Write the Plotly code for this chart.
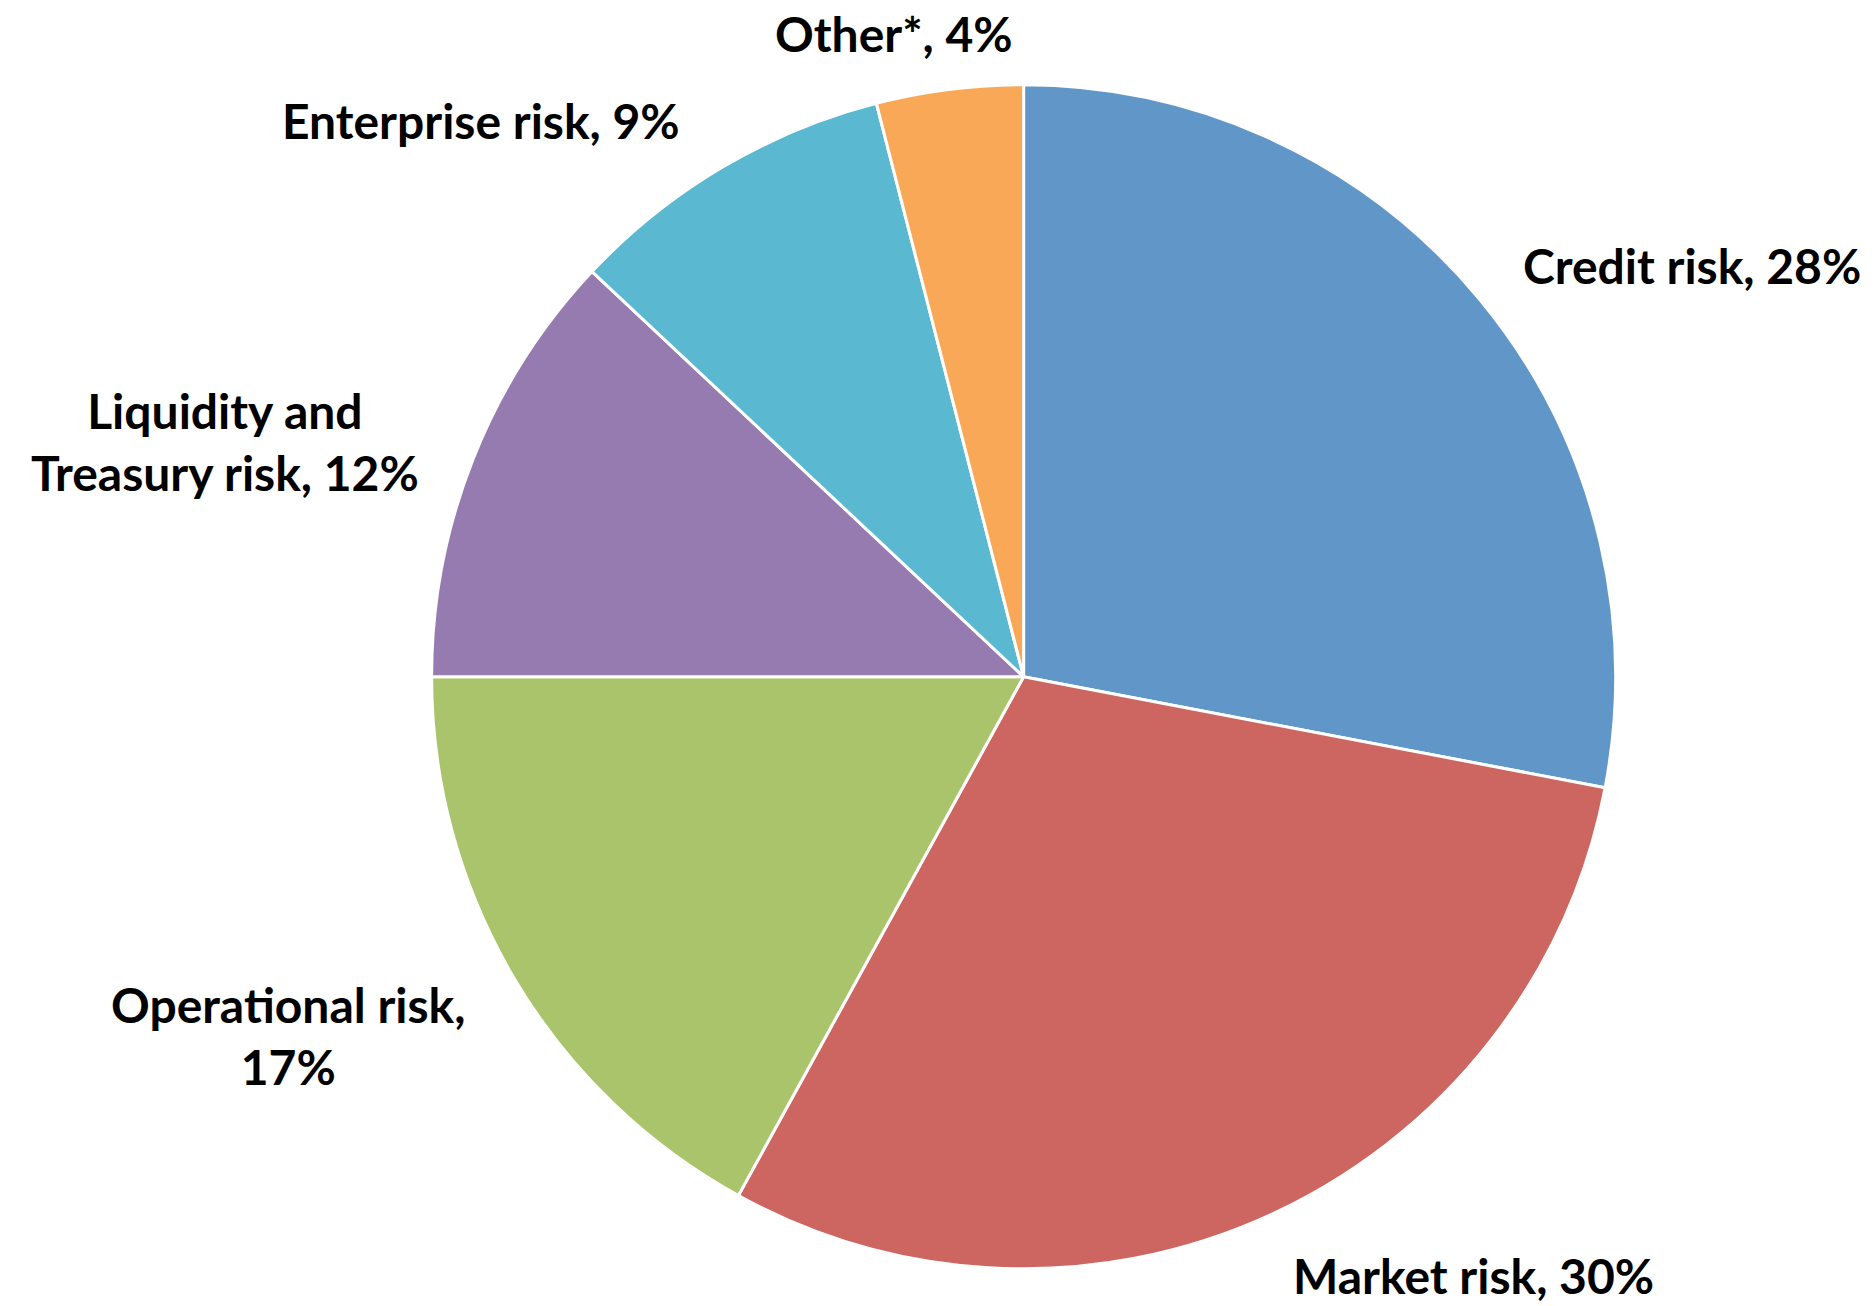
import plotly.graph_objects as go

# Share of risk categories (percent), clockwise from 12 o'clock
categories = ["Credit risk", "Market risk", "Operational risk",
              "Liquidity and Treasury risk", "Enterprise risk", "Other*"]
shares = [28, 30, 17, 12, 9, 4]

# Label text with line breaks where a label wraps
label_lines = ["Credit risk, {v}%", "Market risk, {v}%", "Operational risk,<br>{v}%",
               "Liquidity and<br>Treasury risk, {v}%", "Enterprise risk, {v}%", "Other*, {v}%"]

slice_colors = ["#6096C8", "#CD6660", "#AAC46C", "#957BB0", "#5BB8D1", "#F9A857"]

# Label anchor points in paper coordinates
label_x = [0.9025, 0.786, 0.1535, 0.120, 0.2565, 0.477]
label_y = [0.797, 0.0, 0.207, 0.662, 0.908, 0.974]
label_yanchor = ["middle", "bottom", "middle", "middle", "middle", "middle"]

W, H = 1875, 1306
cx, cy, r = 1023.6, 676.8, 592

fig = go.Figure(go.Pie(
    labels=categories,
    values=shares,
    sort=False,
    direction="clockwise",
    rotation=0,
    marker=dict(colors=slice_colors, line=dict(color="white", width=3)),
    textinfo="none",
    hoverinfo="label+percent",
    showlegend=False,
    domain=dict(x=[(cx - r) / W, (cx + r) / W],
                y=[(H - cy - r) / H, (H - cy + r) / H]),
))

for tmpl, v, x, y, ya in zip(label_lines, shares, label_x, label_y, label_yanchor):
    fig.add_annotation(
        x=x, y=y, xref="paper", yref="paper",
        text="<b>" + tmpl.format(v=v) + "</b>",
        showarrow=False, xanchor="center", yanchor=ya, align="center",
        font=dict(family="Lato", size=48, color="black"),
    )

fig.update_layout(
    width=W, height=H,
    margin=dict(l=0, r=0, t=0, b=0),
    paper_bgcolor="white", plot_bgcolor="white",
)

fig.write_html("out.html")
